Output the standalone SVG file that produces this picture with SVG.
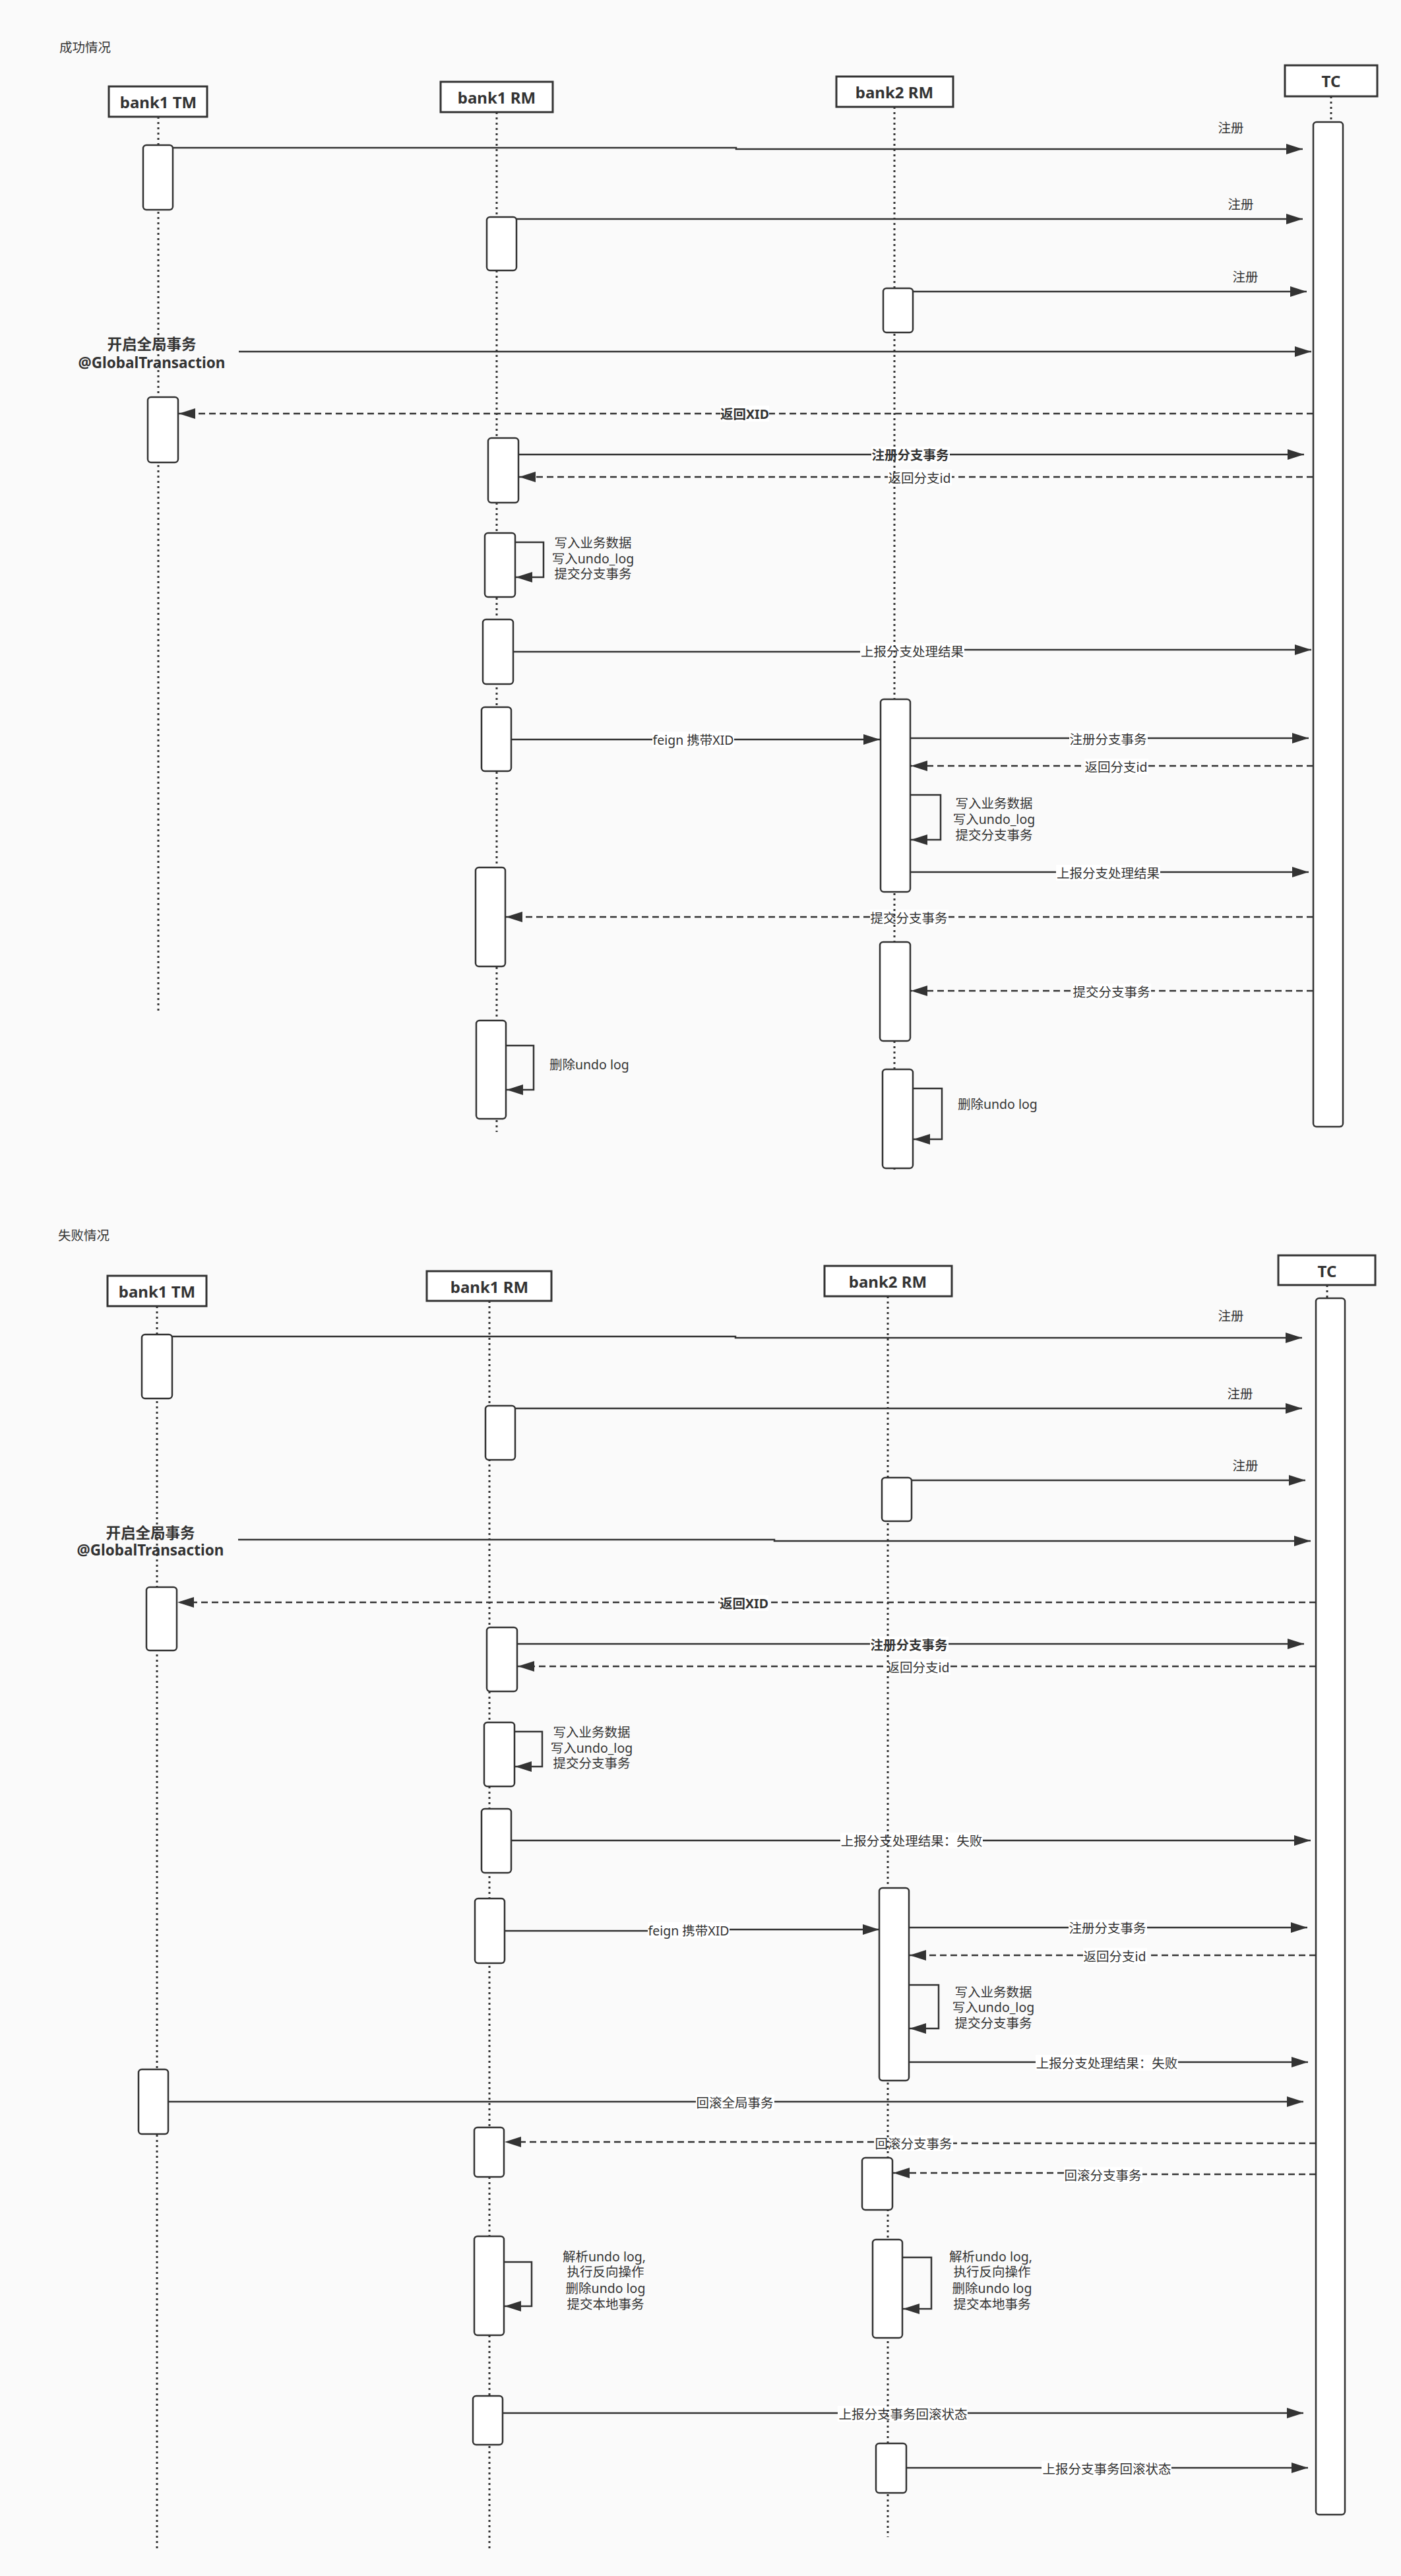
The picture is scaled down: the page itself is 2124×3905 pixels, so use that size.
<svg xmlns="http://www.w3.org/2000/svg" width="2124" height="3905" viewBox="0 0 2124 3905">
<style>
.page{fill:#fafafa}
.hdr{fill:#fff;stroke:#333;stroke-width:3}
.hdrt{font-family:"Noto Sans","Noto Sans CJK SC",sans-serif;font-weight:bold;font-size:24px;fill:#333;text-anchor:middle;dominant-baseline:central}
.life{stroke:#333;stroke-width:3;stroke-dasharray:3 5;fill:none}
.act{fill:#fff;stroke:#333;stroke-width:2.5}
.msg{stroke:#333;stroke-width:2.5;fill:none;marker-end:url(#ah)}
.dash{stroke-dasharray:10 6}
.t{font-family:"Noto Sans","Noto Sans CJK SC",sans-serif;font-size:19.5px;fill:#333;text-anchor:middle;dominant-baseline:central}
.ts{text-anchor:start}
.b{font-weight:bold}
.big{font-size:22.5px;font-weight:bold}
.bg{fill:#fff}
</style>
<defs>
<marker id="ah" viewBox="0 0 25 16" markerWidth="25" markerHeight="16" refX="25" refY="8" markerUnits="userSpaceOnUse" orient="auto">
<path d="M0,0 L25,8 L0,16 Z" fill="#333"/>
</marker>
</defs>
<rect class="page" x="0" y="0" width="2124" height="3905"/>

<!-- Section titles -->
<text class="t ts" x="90" y="71">成功情况</text>
<text class="t ts" x="88" y="1872">失败情况</text>

<!-- ================= CONNECTORS ================= -->
<g id="connectors">
<!-- Section 1 -->
<path class="msg" d="M262,224 H1116 V226 H1975"/>
<text class="t" x="1866" y="193">注册</text>
<path class="msg" d="M783,332 H1975"/>
<text class="t" x="1881" y="309">注册</text>
<path class="msg" d="M1384,442 H1981"/>
<text class="t" x="1888" y="419">注册</text>
<path class="msg" d="M362,533 H1988"/>
<text class="t big" x="230" y="521">开启全局事务</text>
<text class="t big" x="230" y="549">@GlobalTransaction</text>
<path class="msg dash" d="M1991,627 H271"/>
<rect class="bg" x="1092" y="615" width="74" height="24"/>
<text class="t b" x="1129" y="627">返回XID</text>
<path class="msg" d="M786,689 H1977"/>
<rect class="bg" x="1321" y="677" width="119" height="24"/>
<text class="t b" x="1380" y="689">注册分支事务</text>
<path class="msg dash" d="M1991,723 H787"/>
<rect class="bg" x="1346" y="712" width="97" height="24"/>
<text class="t" x="1394" y="724">返回分支id</text>
<path class="msg" d="M781,822 H824 V875 H782"/>
<text class="t" x="899" y="822">写入业务数据</text>
<text class="t" x="899" y="846">写入undo_log</text>
<text class="t" x="899" y="869">提交分支事务</text>
<path class="msg" d="M778,988 H1383 V985 H1988"/>
<rect class="bg" x="1304" y="975" width="158" height="24"/>
<text class="t" x="1383" y="987">上报分支处理结果</text>
<path class="msg" d="M775,1121 H1334"/>
<rect class="bg" x="989" y="1109" width="124" height="24"/>
<text class="t" x="1051" y="1121">feign 携带XID</text>
<path class="msg" d="M1380,1119 H1984"/>
<rect class="bg" x="1621" y="1108" width="119" height="24"/>
<text class="t" x="1680" y="1120">注册分支事务</text>
<path class="msg dash" d="M1991,1161 H1381"/>
<rect class="bg" x="1644" y="1150" width="97" height="24"/>
<text class="t" x="1692" y="1162">返回分支id</text>
<path class="msg" d="M1380,1205 H1426 V1273 H1381"/>
<text class="t" x="1507" y="1217">写入业务数据</text>
<text class="t" x="1507" y="1241">写入undo_log</text>
<text class="t" x="1507" y="1265">提交分支事务</text>
<path class="msg" d="M1377,1322 H1984"/>
<rect class="bg" x="1601" y="1311" width="158" height="24"/>
<text class="t" x="1680" y="1323">上报分支处理结果</text>
<path class="msg dash" d="M1991,1390 H767"/>
<rect class="bg" x="1319" y="1379" width="119" height="24"/>
<text class="t" x="1378" y="1391">提交分支事务</text>
<path class="msg dash" d="M1991,1502 H1381"/>
<rect class="bg" x="1626" y="1491" width="119" height="24"/>
<text class="t" x="1685" y="1503">提交分支事务</text>
<path class="msg" d="M767,1585 H809 V1652 H768"/>
<text class="t ts" x="833" y="1613">删除undo log</text>
<path class="msg" d="M1384,1650 H1428 V1727 H1385"/>
<text class="t ts" x="1452" y="1673">删除undo log</text>

<!-- Section 2 -->
<path class="msg" d="M261,2026 H1115 V2028 H1974"/>
<text class="t" x="1866" y="1994">注册</text>
<path class="msg" d="M781,2135 H1974"/>
<text class="t" x="1880" y="2112">注册</text>
<path class="msg" d="M1382,2244 H1979"/>
<text class="t" x="1888" y="2221">注册</text>
<path class="msg" d="M361,2334 H1174 V2336 H1987"/>
<text class="t big" x="228" y="2323">开启全局事务</text>
<text class="t big" x="228" y="2349">@GlobalTransaction</text>
<path class="msg dash" d="M1995,2429 H269"/>
<rect class="bg" x="1091" y="2418" width="74" height="24"/>
<text class="t b" x="1128" y="2430">返回XID</text>
<path class="msg" d="M784,2492 H1977"/>
<rect class="bg" x="1319" y="2481" width="119" height="24"/>
<text class="t b" x="1378" y="2493">注册分支事务</text>
<path class="msg dash" d="M1995,2526 H785"/>
<rect class="bg" x="1344" y="2515" width="97" height="24"/>
<text class="t" x="1392" y="2527">返回分支id</text>
<path class="msg" d="M780,2625 H822 V2678 H781"/>
<text class="t" x="897" y="2625">写入业务数据</text>
<text class="t" x="897" y="2649">写入undo_log</text>
<text class="t" x="897" y="2672">提交分支事务</text>
<path class="msg" d="M775,2790 H1987"/>
<rect class="bg" x="1274" y="2778" width="216" height="24"/>
<text class="t" x="1382" y="2790">上报分支处理结果：失败</text>
<path class="msg" d="M765,2927 H1044 V2925 H1333"/>
<rect class="bg" x="982" y="2914" width="124" height="24"/>
<text class="t" x="1044" y="2926">feign 携带XID</text>
<path class="msg" d="M1378,2922 H1982"/>
<rect class="bg" x="1620" y="2910" width="119" height="24"/>
<text class="t" x="1679" y="2922">注册分支事务</text>
<path class="msg dash" d="M1995,2964 H1379"/>
<rect class="bg" x="1642" y="2953" width="97" height="24"/>
<text class="t" x="1690" y="2965">返回分支id</text>
<path class="msg" d="M1378,3009 H1423 V3075 H1379"/>
<text class="t" x="1506" y="3019">写入业务数据</text>
<text class="t" x="1506" y="3042">写入undo_log</text>
<text class="t" x="1506" y="3066">提交分支事务</text>
<path class="msg" d="M1375,3126 H1983"/>
<rect class="bg" x="1570" y="3115" width="216" height="24"/>
<text class="t" x="1678" y="3127">上报分支处理结果：失败</text>
<path class="msg" d="M255,3186 H1976"/>
<rect class="bg" x="1055" y="3175" width="119" height="24"/>
<text class="t" x="1114" y="3187">回滚全局事务</text>
<path class="msg dash" d="M1995,3249 H1385 V3247 H765"/>
<rect class="bg" x="1326" y="3237" width="119" height="24"/>
<text class="t" x="1385" y="3249">回滚分支事务</text>
<path class="msg dash" d="M1995,3296 H1672 V3294 H1354"/>
<rect class="bg" x="1613" y="3285" width="119" height="24"/>
<text class="t" x="1672" y="3297">回滚分支事务</text>
<path class="msg" d="M764,3429 H806 V3496 H765"/>
<text class="t" x="916" y="3420">解析undo log,</text>
<text class="t" x="918" y="3443">执行反向操作</text>
<text class="t" x="918" y="3468">删除undo log</text>
<text class="t" x="918" y="3492">提交本地事务</text>
<path class="msg" d="M1368,3422 H1412 V3500 H1369"/>
<text class="t" x="1502" y="3420">解析undo log,</text>
<text class="t" x="1504" y="3443">执行反向操作</text>
<text class="t" x="1504" y="3468">删除undo log</text>
<text class="t" x="1504" y="3492">提交本地事务</text>
<path class="msg" d="M762,3658 H1976"/>
<rect class="bg" x="1270" y="3647" width="197" height="24"/>
<text class="t" x="1369" y="3659">上报分支事务回滚状态</text>
<path class="msg" d="M1374,3741 H1983"/>
<rect class="bg" x="1579" y="3730" width="197" height="24"/>
<text class="t" x="1678" y="3742">上报分支事务回滚状态</text>
</g>

<!-- ================= NODES: Section 1 ================= -->
<g id="s1-bank1-tm">
<line class="life" x1="240" y1="177" x2="240" y2="1534"/>
<rect class="hdr" x="165" y="131" width="149" height="46"/>
<text class="hdrt" x="240" y="154">bank1 TM</text>
<rect class="act" x="217" y="220" width="45" height="98" rx="5"/>
<rect class="act" x="224" y="602" width="46" height="99" rx="5"/>
</g>
<g id="s1-bank1-rm">
<line class="life" x1="753" y1="170" x2="753" y2="1716"/>
<rect class="hdr" x="668" y="124" width="170" height="46"/>
<text class="hdrt" x="753" y="147">bank1 RM</text>
<rect class="act" x="738" y="329" width="45" height="81" rx="5"/>
<rect class="act" x="740" y="664" width="46" height="98" rx="5"/>
<rect class="act" x="735" y="808" width="46" height="97" rx="5"/>
<rect class="act" x="732" y="939" width="46" height="98" rx="5"/>
<rect class="act" x="730" y="1072" width="45" height="97" rx="5"/>
<rect class="act" x="721" y="1315" width="45" height="150" rx="5"/>
<rect class="act" x="722" y="1547" width="45" height="149" rx="5"/>
</g>
<g id="s1-bank2-rm">
<line class="life" x1="1356" y1="162" x2="1356" y2="1775"/>
<rect class="hdr" x="1268" y="116" width="177" height="46"/>
<text class="hdrt" x="1356" y="139">bank2 RM</text>
<rect class="act" x="1339" y="437" width="45" height="67" rx="5"/>
<rect class="act" x="1335" y="1060" width="45" height="292" rx="5"/>
<rect class="act" x="1334" y="1428" width="46" height="150" rx="5"/>
<rect class="act" x="1338" y="1621" width="46" height="150" rx="5"/>
</g>
<g id="s1-tc">
<line class="life" x1="2018" y1="146" x2="2018" y2="185"/>
<rect class="hdr" x="1948" y="99" width="140" height="47"/>
<text class="hdrt" x="2018" y="122">TC</text>
<rect class="act" x="1991" y="185" width="45" height="1523" rx="5"/>
</g>

<!-- ================= NODES: Section 2 ================= -->
<g id="s2-bank1-tm">
<line class="life" x1="238" y1="1980" x2="238" y2="3865"/>
<rect class="hdr" x="163" y="1934" width="150" height="46"/>
<text class="hdrt" x="238" y="1957">bank1 TM</text>
<rect class="act" x="215" y="2023" width="46" height="97" rx="5"/>
<rect class="act" x="222" y="2406" width="46" height="96" rx="5"/>
<rect class="act" x="210" y="3137" width="45" height="98" rx="5"/>
</g>
<g id="s2-bank1-rm">
<line class="life" x1="742" y1="1972" x2="742" y2="3865"/>
<rect class="hdr" x="647" y="1927" width="189" height="45"/>
<text class="hdrt" x="742" y="1950">bank1 RM</text>
<rect class="act" x="736" y="2131" width="45" height="82" rx="5"/>
<rect class="act" x="738" y="2467" width="46" height="97" rx="5"/>
<rect class="act" x="734" y="2611" width="46" height="97" rx="5"/>
<rect class="act" x="730" y="2742" width="45" height="97" rx="5"/>
<rect class="act" x="720" y="2878" width="45" height="98" rx="5"/>
<rect class="act" x="719" y="3225" width="45" height="75" rx="5"/>
<rect class="act" x="719" y="3390" width="45" height="150" rx="5"/>
<rect class="act" x="717" y="3632" width="45" height="74" rx="5"/>
</g>
<g id="s2-bank2-rm">
<line class="life" x1="1346" y1="1965" x2="1346" y2="3846"/>
<rect class="hdr" x="1250" y="1919" width="193" height="46"/>
<text class="hdrt" x="1346" y="1942">bank2 RM</text>
<rect class="act" x="1337" y="2240" width="45" height="66" rx="5"/>
<rect class="act" x="1333" y="2862" width="45" height="292" rx="5"/>
<rect class="act" x="1307" y="3271" width="46" height="79" rx="5"/>
<rect class="act" x="1323" y="3395" width="45" height="149" rx="5"/>
<rect class="act" x="1328" y="3704" width="46" height="75" rx="5"/>
</g>
<g id="s2-tc">
<line class="life" x1="2012" y1="1948" x2="2012" y2="1968"/>
<rect class="hdr" x="1938" y="1903" width="147" height="45"/>
<text class="hdrt" x="2012" y="1926">TC</text>
<rect class="act" x="1995" y="1968" width="44" height="1844" rx="5"/>
</g>
</svg>
